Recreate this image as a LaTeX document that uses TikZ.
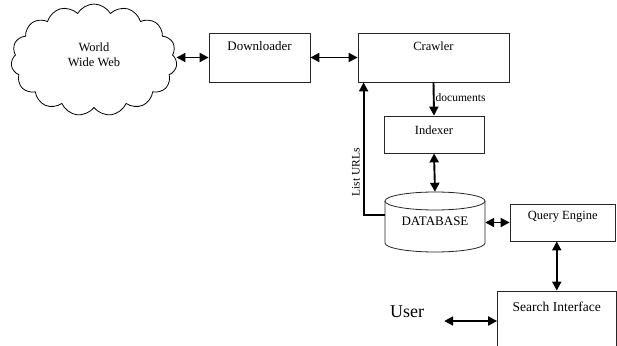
\documentclass[tikz,border=0pt]{standalone}
\usepackage{fontspec}
\setmainfont{Liberation Serif}
\usetikzlibrary{shapes.symbols,arrows.meta}
\tikzset{
  box/.style={draw=black!85, line width=0.8pt, rectangle, inner sep=0pt},
  lbl/.style={font=\fontsize{12.5}{14.5}\selectfont, inner sep=0pt},
  small/.style={font=\fontsize{11.5}{13}\selectfont, inner sep=0pt},
  arr/.style={line width=1.9pt, {Triangle[length=9pt,width=9pt]}-{Triangle[length=9pt,width=9pt]}},
  arrone/.style={line width=1.9pt, -{Triangle[length=9pt,width=9pt]}},
}
\begin{document}
\begin{tikzpicture}[x=1pt,y=-1pt]
\useasboundingbox (0,0) rectangle (617,345);
\clip (0,0) rectangle (617,345);
\fill[white] (0,0) rectangle (617,345);
% cloud
\node[cloud, draw=black, line width=0.8pt, cloud puffs=15, cloud puff arc=120, aspect=1.5,
  minimum width=166pt, minimum height=112pt, inner sep=0pt] (web) at (94,60) {};
\node[lbl, align=center] (webt) at (94,55) {World\\Wide Web};
% boxes
\node[box, minimum width=101pt, minimum height=49pt] (dl) at (259.5,57.5) {};
\node[lbl, font=\fontsize{13}{15}\selectfont] (dlt) at (259.5,46) {Downloader};
\node[box, minimum width=151pt, minimum height=49pt] (cw) at (433.5,57.5) {};
\node[lbl] (cwt) at (433.5,46) {Crawler};
\node[box, minimum width=100pt, minimum height=37pt] (ix) at (434,134.5) {};
\node[lbl] (ixt) at (434,130) {Indexer};
% database cylinder
\node[minimum width=100pt, minimum height=60pt, inner sep=0pt] (db) at (435,222) {};
\draw[draw=black!85, line width=0.8pt] (435,201) ellipse [x radius=50, y radius=9];
\draw[draw=black!85, line width=0.8pt] (385,201) -- (385,243)
  arc[start angle=180, end angle=0, x radius=50, y radius=9] -- (485,201);
\node[lbl, font=\fontsize{13}{15}\selectfont] (dbt) at (435,221) {DATABASE};
\node[box, minimum width=105.5pt, minimum height=37pt] (qe) at (562.75,222.5) {};
\node[lbl] (qet) at (562.75,217) {Query Engine};
\node[box, minimum width=118.5pt, minimum height=60pt] (si) at (556.75,321) {};
\node[lbl, font=\fontsize{13.5}{16}\selectfont] (sit) at (556.75,307) {Search Interface};
\node[lbl, font=\fontsize{18}{20}\selectfont] (user) at (407,312) {User};
% connectors
\draw[arr] (dl.west) -- (dl.west -| web.east);
\draw[arr] (dl.east) -- (cw.west);
\draw[arrone] (cw.south) -- node[right, small, pos=0.45, xshift=1pt] (doc) {documents} (ix.north);
\draw[arr] (ix.south) -- (db.north);
\draw[arrone] ([yshift=7pt]db.west) -| node[pos=0.66, small, rotate=90, above, yshift=3pt] (lurl) {List URLs} ([xshift=6pt]cw.south west);
\draw[arr] (db.east |- qe.west) -- (qe.west);
\draw[arr] (si.north |- qe.south) -- (si.north);
\draw[arr] ([xshift=20pt]user.east |- si.west) -- (si.west);
\end{tikzpicture}
\end{document}
